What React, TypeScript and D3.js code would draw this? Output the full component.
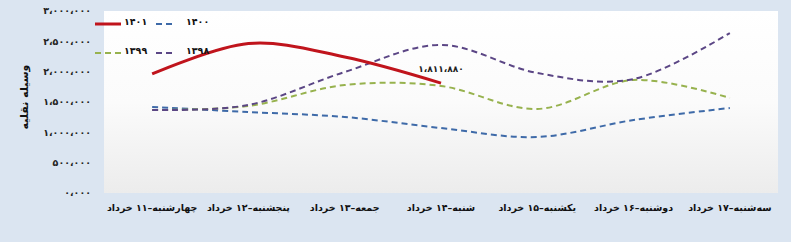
import React from "react";
import * as d3 from "d3";

const categories = [
  "چهارشنبه–۱۱ خرداد",
  "پنجشنبه–۱۲ خرداد",
  "جمعه–۱۳ خرداد",
  "شنبه–۱۴ خرداد",
  "یکشنبه–۱۵ خرداد",
  "دوشنبه–۱۶ خرداد",
  "سه‌شنبه–۱۷ خرداد",
];

const s1401 = [1962000, 2464000, 2242000, 1811880];
const s1400 = [1418000, 1335000, 1253000, 1071000, 923000, 1203000, 1401000];
const s1399 = [1368000, 1434000, 1780000, 1764000, 1385000, 1863000, 1566000];
const s1398 = [1368000, 1451000, 1995000, 2440000, 1978000, 1879000, 2637000];

const yTicks = [0, 500000, 1000000, 1500000, 2000000, 2500000, 3000000];
const yTickLabels = ["۰،۰۰۰", "۵۰۰،۰۰۰", "۱،۰۰۰،۰۰۰", "۱،۵۰۰،۰۰۰", "۲،۰۰۰،۰۰۰", "۲،۵۰۰،۰۰۰", "۳،۰۰۰،۰۰۰"];
const lastLabel = "۱،۸۱۱،۸۸۰";
const yTitle = "وسیله نقلیه";

const seriesNames = ["۱۴۰۱", "۱۴۰۰", "۱۳۹۹", "۱۳۹۸"];

export default function App() {
  const W = 791, H = 242;
  const plot = { left: 104, right: 778, top: 11, bottom: 193 };
  const x = d3.scaleBand<string>().domain(categories).range([plot.left, plot.right]);
  const y = d3.scaleLinear().domain([0, 3000000]).range([plot.bottom, plot.top]);
  const cx = (i: number) => (x(categories[i]) as number) + x.bandwidth() / 2;
  const line = d3
    .line<number>()
    .x((_, i) => cx(i))
    .y((d) => y(d))
    .curve(d3.curveCardinal.tension(0));

  const font = "'DejaVu Sans', sans-serif";
  const series = [
    { name: seriesNames[0], data: s1401, color: "#c0141c", width: 3, dash: "" },
    { name: seriesNames[1], data: s1400, color: "#3e6aa8", width: 2, dash: "6,4" },
    { name: seriesNames[2], data: s1399, color: "#97b24e", width: 2, dash: "6,4" },
    { name: seriesNames[3], data: s1398, color: "#5b4685", width: 2, dash: "6,4" },
  ];
  const drawOrder = [1, 2, 3, 0];
  const legendPos = [
    { x: 95, y: 22 },
    { x: 156, y: 22 },
    { x: 95, y: 51 },
    { x: 156, y: 51 },
  ];

  return (
    <svg
      width={W}
      height={H}
      style={{ position: "absolute", left: 0, top: 0 }}
      fontFamily={font}
    >
      <defs>
        <linearGradient id="pg" x1="0" y1="0" x2="0" y2="1">
          <stop offset="0" stopColor="#ffffff" />
          <stop offset="0.5" stopColor="#fbfbfb" />
          <stop offset="1" stopColor="#ececec" />
        </linearGradient>
      </defs>
      <rect x={0} y={0} width={W} height={H} fill="#dbe5f1" />
      <rect
        x={plot.left}
        y={plot.top}
        width={plot.right - plot.left}
        height={plot.bottom - plot.top}
        fill="url(#pg)"
      />
      {yTicks.map((t, i) => (
        <text
          key={t}
          x={91}
          y={y(t)}
          dy="0.35em"
          textAnchor="end"
          fontSize={9.5}
          fontWeight="bold"
          fill="#222"
        >
          {yTickLabels[i]}
        </text>
      ))}
      <text
        transform={`translate(24,97) rotate(-90)`}
        textAnchor="middle"
        dy="0.35em"
        fontSize={11}
        fontWeight="bold"
        fill="#111"
      >
        {yTitle}
      </text>
      {categories.map((c, i) => (
        <text
          key={c}
          x={cx(i)}
          y={211}
          textAnchor="middle"
          fontSize={9.5}
          fontWeight="bold"
          fill="#111"
        >
          {c}
        </text>
      ))}
      {drawOrder.map((k) => {
        const s = series[k];
        return (
          <path
            key={s.name}
            d={line(s.data) || ""}
            fill="none"
            stroke={s.color}
            strokeWidth={s.width}
            strokeDasharray={s.dash || undefined}
          />
        );
      })}
      <text
        x={cx(3)}
        y={69}
        dy="0.35em"
        textAnchor="middle"
        fontSize={9}
        fontWeight="bold"
        fill="#222"
      >
        {lastLabel}
      </text>
      {series.map((s, i) => {
        const p = legendPos[i];
        const len = i % 2 === 0 ? 26 : 20;
        return (
          <g key={s.name}>
            <line
              x1={p.x}
              x2={p.x + len}
              y1={p.y + 2}
              y2={p.y + 2}
              stroke={s.color}
              strokeWidth={s.width}
              strokeDasharray={s.dash || undefined}
            />
            <text
              x={p.x + len + (i % 2 === 0 ? 3 : 10)}
              y={p.y}
              dy="0.35em"
              fontSize={9.5}
              fontWeight="bold"
              fill="#111"
            >
              {s.name}
            </text>
          </g>
        );
      })}
    </svg>
  );
}
